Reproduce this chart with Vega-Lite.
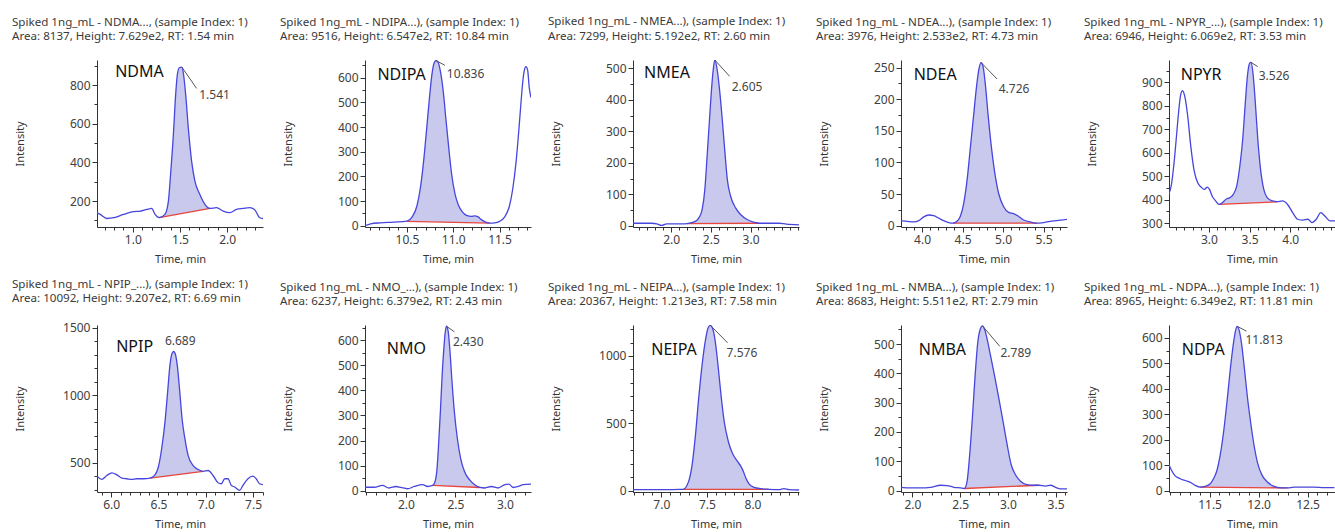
{
"$schema":"https://vega.github.io/schema/vega-lite/v6.json",
"padding":{"left":12,"top":16,"right":0,"bottom":0},
"columns":5,
"spacing":{"row":98,"column":102},
"bounds":"flush",
"config":{
 "view":{"continuousWidth":166,"continuousHeight":167,"stroke":null},
 "font":"Noto Sans",
 "title":{"font":"Noto Sans","fontSize":11.6,"fontWeight":"normal","color":"#3a3a3a","anchor":"start","frame":"group","dx":-85,"offset":17,"lineHeight":14.5},
 "axis":{"labelFont":"Noto Sans","labelFontSize":12,"labelColor":"#404040","titleFont":"Noto Sans","titleFontSize":11,"titleFontWeight":"normal","titleColor":"#333333","domainColor":"#333333","tickColor":"#333333","grid":false,"tickSize":5,"titlePadding":8,"labelOverlap":false,"labelFlush":false},
 "axisY":{"titleX":-72,"format":"d"},
 "line":{"interpolate":"monotone"},
 "area":{"interpolate":"monotone"}
},
"datasets":{
"NDMA":[
{"k":"s","t":0.62,"y":140},{"k":"s","t":0.655,"y":131},{"k":"s","t":0.725,"y":110},{"k":"s","t":0.8,"y":114},{"k":"s","t":0.9,"y":131},{"k":"s","t":1.007,"y":145},{"k":"s","t":1.08,"y":148},{"k":"s","t":1.15,"y":157},{"k":"s","t":1.2,"y":162},{"k":"s","t":1.236,"y":131},
{"k":"s","t":1.28,"y":114,"b":114},{"k":"s","t":1.34,"y":131,"b":119},{"k":"s","t":1.377,"y":200,"b":123},{"k":"s","t":1.4,"y":338,"b":125},{"k":"s","t":1.43,"y":545,"b":128},{"k":"s","t":1.454,"y":752,"b":130},{"k":"s","t":1.472,"y":855,"b":131},{"k":"s","t":1.493,"y":890,"b":133},{"k":"s","t":1.518,"y":893,"b":135},{"k":"s","t":1.535,"y":864,"b":137},{"k":"s","t":1.56,"y":752,"b":139},{"k":"s","t":1.588,"y":579,"b":141},{"k":"s","t":1.623,"y":407,"b":145},{"k":"s","t":1.658,"y":303,"b":148},{"k":"s","t":1.711,"y":234,"b":152},{"k":"s","t":1.764,"y":183,"b":157},{"k":"s","t":1.817,"y":162,"b":162},
{"k":"s","t":1.887,"y":166},{"k":"s","t":1.958,"y":148},{"k":"s","t":2.028,"y":140},{"k":"s","t":2.099,"y":157},{"k":"s","t":2.17,"y":162},{"k":"s","t":2.24,"y":166},{"k":"s","t":2.29,"y":157},{"k":"s","t":2.345,"y":114},{"k":"s","t":2.38,"y":110},
{"k":"b","t":1.28,"y":114},{"k":"b","t":1.817,"y":162},
{"k":"n","t":0.813,"y":841,"s":"NDMA"},{"k":"r","t":1.704,"y":726,"s":"1.541"},{"k":"l","t":1.52,"y":893,"t2":1.676,"y2":783}
],
"NDIPA":[
{"k":"s","t":10.046,"y":0},{"k":"s","t":10.107,"y":8},{"k":"s","t":10.214,"y":12},{"k":"s","t":10.357,"y":15},
{"k":"s","t":10.5,"y":19,"b":18},{"k":"s","t":10.554,"y":35,"b":18},{"k":"s","t":10.607,"y":80,"b":17},{"k":"s","t":10.643,"y":150,"b":17},{"k":"s","t":10.679,"y":260,"b":17},{"k":"s","t":10.714,"y":400,"b":16},{"k":"s","t":10.743,"y":520,"b":16},{"k":"s","t":10.768,"y":610,"b":16},{"k":"s","t":10.793,"y":660,"b":16},{"k":"s","t":10.814,"y":670,"b":16},{"k":"s","t":10.839,"y":660,"b":15},{"k":"s","t":10.864,"y":620,"b":15},{"k":"s","t":10.893,"y":540,"b":15},{"k":"s","t":10.921,"y":430,"b":15},{"k":"s","t":10.95,"y":320,"b":14},{"k":"s","t":10.982,"y":210,"b":14},{"k":"s","t":11.018,"y":130,"b":14},{"k":"s","t":11.054,"y":85,"b":14},{"k":"s","t":11.1,"y":55,"b":13},{"k":"s","t":11.143,"y":42,"b":13},{"k":"s","t":11.196,"y":38,"b":13},{"k":"s","t":11.232,"y":40,"b":12},{"k":"s","t":11.268,"y":36,"b":12},{"k":"s","t":11.304,"y":25,"b":12},{"k":"s","t":11.35,"y":15,"b":11},{"k":"s","t":11.393,"y":11,"b":11},
{"k":"s","t":11.446,"y":12},{"k":"s","t":11.5,"y":18},{"k":"s","t":11.554,"y":35},{"k":"s","t":11.607,"y":80},{"k":"s","t":11.643,"y":150},{"k":"s","t":11.679,"y":260},{"k":"s","t":11.707,"y":380},{"k":"s","t":11.732,"y":500},{"k":"s","t":11.75,"y":580},{"k":"s","t":11.768,"y":630},{"k":"s","t":11.786,"y":645},{"k":"s","t":11.804,"y":630},{"k":"s","t":11.821,"y":560},{"k":"s","t":11.84,"y":520},
{"k":"b","t":10.5,"y":18},{"k":"b","t":11.393,"y":11},
{"k":"n","t":10.18,"y":592,"s":"NDIPA"},{"k":"r","t":10.93,"y":600,"s":"10.836"},{"k":"l","t":10.814,"y":670,"t2":10.91,"y2":650}
],
"NMEA":[
{"k":"s","t":1.52,"y":8},{"k":"s","t":1.754,"y":8},{"k":"s","t":1.82,"y":6},{"k":"s","t":1.88,"y":1},{"k":"s","t":1.945,"y":6},{"k":"s","t":2.01,"y":6},{"k":"s","t":2.136,"y":6},
{"k":"s","t":2.2,"y":7,"b":7},{"k":"s","t":2.305,"y":14,"b":7},{"k":"s","t":2.347,"y":24,"b":7},{"k":"s","t":2.39,"y":51,"b":7},{"k":"s","t":2.424,"y":114,"b":7},{"k":"s","t":2.453,"y":220,"b":7},{"k":"s","t":2.483,"y":337,"b":7},{"k":"s","t":2.508,"y":432,"b":7},{"k":"s","t":2.53,"y":496,"b":7},{"k":"s","t":2.55,"y":527,"b":7},{"k":"s","t":2.58,"y":496,"b":7},{"k":"s","t":2.61,"y":432,"b":7},{"k":"s","t":2.644,"y":337,"b":7},{"k":"s","t":2.678,"y":231,"b":7},{"k":"s","t":2.708,"y":146,"b":7},{"k":"s","t":2.75,"y":93,"b":7},{"k":"s","t":2.814,"y":56,"b":7},{"k":"s","t":2.877,"y":35,"b":8},{"k":"s","t":2.962,"y":19,"b":8},{"k":"s","t":3.047,"y":11,"b":8},{"k":"s","t":3.11,"y":8,"b":8},
{"k":"s","t":3.237,"y":8},{"k":"s","t":3.36,"y":8},{"k":"s","t":3.45,"y":5},{"k":"s","t":3.61,"y":3},
{"k":"b","t":2.2,"y":7},{"k":"b","t":3.11,"y":8},
{"k":"n","t":1.66,"y":469,"s":"NMEA"},{"k":"r","t":2.763,"y":427,"s":"2.605"},{"k":"l","t":2.55,"y":527,"t2":2.737,"y2":475}
],
"NDEA":[
{"k":"s","t":3.74,"y":8},{"k":"s","t":3.815,"y":7},{"k":"s","t":3.897,"y":6},{"k":"s","t":3.96,"y":8},{"k":"s","t":4.02,"y":14},{"k":"s","t":4.082,"y":17},{"k":"s","t":4.144,"y":16},{"k":"s","t":4.206,"y":12},{"k":"s","t":4.267,"y":8},{"k":"s","t":4.33,"y":5},
{"k":"s","t":4.383,"y":4,"b":4},{"k":"s","t":4.432,"y":7,"b":4},{"k":"s","t":4.473,"y":15,"b":4},{"k":"s","t":4.514,"y":35,"b":4},{"k":"s","t":4.556,"y":72,"b":4},{"k":"s","t":4.597,"y":124,"b":4},{"k":"s","t":4.638,"y":176,"b":4},{"k":"s","t":4.671,"y":218,"b":4},{"k":"s","t":4.7,"y":246,"b":4},{"k":"s","t":4.728,"y":258,"b":4},{"k":"s","t":4.753,"y":252,"b":4},{"k":"s","t":4.782,"y":223,"b":4},{"k":"s","t":4.815,"y":176,"b":4},{"k":"s","t":4.852,"y":129,"b":4},{"k":"s","t":4.893,"y":88,"b":4},{"k":"s","t":4.946,"y":51,"b":4},{"k":"s","t":5.008,"y":30,"b":4},{"k":"s","t":5.07,"y":21,"b":4},{"k":"s","t":5.13,"y":19,"b":4},{"k":"s","t":5.19,"y":15,"b":4},{"k":"s","t":5.255,"y":9,"b":4},{"k":"s","t":5.337,"y":6,"b":4},{"k":"s","t":5.42,"y":4,"b":4},
{"k":"s","t":5.5,"y":5},{"k":"s","t":5.58,"y":7},{"k":"s","t":5.66,"y":8},{"k":"s","t":5.79,"y":10},
{"k":"b","t":4.383,"y":4},{"k":"b","t":5.42,"y":4},
{"k":"n","t":3.897,"y":231,"s":"NDEA"},{"k":"r","t":4.947,"y":210,"s":"4.726"},{"k":"l","t":4.728,"y":258,"t2":4.926,"y2":232}
],
"NPYR":[
{"k":"s","t":2.508,"y":423},{"k":"s","t":2.54,"y":465},{"k":"s","t":2.57,"y":550},{"k":"s","t":2.6,"y":663},{"k":"s","t":2.625,"y":762},{"k":"s","t":2.65,"y":840},{"k":"s","t":2.675,"y":864},{"k":"s","t":2.704,"y":840},{"k":"s","t":2.738,"y":762},{"k":"s","t":2.78,"y":621},{"k":"s","t":2.82,"y":522},{"k":"s","t":2.863,"y":472},{"k":"s","t":2.904,"y":454},{"k":"s","t":2.946,"y":444},{"k":"s","t":2.98,"y":454},{"k":"s","t":3.008,"y":444},{"k":"s","t":3.04,"y":416},{"k":"s","t":3.083,"y":395},
{"k":"s","t":3.125,"y":380,"b":380},{"k":"s","t":3.167,"y":388,"b":381},{"k":"s","t":3.21,"y":402,"b":381},{"k":"s","t":3.258,"y":409,"b":382},{"k":"s","t":3.3,"y":423,"b":383},{"k":"s","t":3.342,"y":458,"b":383},{"k":"s","t":3.383,"y":550,"b":384},{"k":"s","t":3.417,"y":663,"b":384},{"k":"s","t":3.446,"y":804,"b":385},{"k":"s","t":3.475,"y":931,"b":385},{"k":"s","t":3.5,"y":981,"b":386},{"k":"s","t":3.517,"y":985,"b":386},{"k":"s","t":3.54,"y":945,"b":386},{"k":"s","t":3.57,"y":818,"b":387},{"k":"s","t":3.6,"y":663,"b":387},{"k":"s","t":3.633,"y":536,"b":388},{"k":"s","t":3.675,"y":444,"b":388},{"k":"s","t":3.717,"y":409,"b":389},{"k":"s","t":3.78,"y":395,"b":390},{"k":"s","t":3.84,"y":392,"b":391},
{"k":"s","t":3.904,"y":395},{"k":"s","t":3.967,"y":380},{"k":"s","t":4.03,"y":345},{"k":"s","t":4.09,"y":317},{"k":"s","t":4.154,"y":313},{"k":"s","t":4.217,"y":317},{"k":"s","t":4.267,"y":303},{"k":"s","t":4.32,"y":317},{"k":"s","t":4.375,"y":345},{"k":"s","t":4.425,"y":331},{"k":"s","t":4.49,"y":310},{"k":"s","t":4.55,"y":310},
{"k":"b","t":3.125,"y":380},{"k":"b","t":3.84,"y":391},
{"k":"n","t":2.654,"y":910,"s":"NPYR"},{"k":"r","t":3.6125,"y":910,"s":"3.526"},{"k":"l","t":3.517,"y":985,"t2":3.6,"y2":967}
],
"NPIP":[
{"k":"s","t":5.85,"y":402},{"k":"s","t":5.9,"y":378},{"k":"s","t":5.954,"y":407},{"k":"s","t":6.007,"y":427},{"k":"s","t":6.06,"y":412},{"k":"s","t":6.112,"y":388},{"k":"s","t":6.165,"y":383},{"k":"s","t":6.218,"y":378},{"k":"s","t":6.27,"y":383},{"k":"s","t":6.34,"y":383},
{"k":"s","t":6.41,"y":388,"b":388},{"k":"s","t":6.463,"y":412,"b":393},{"k":"s","t":6.498,"y":468,"b":396},{"k":"s","t":6.533,"y":603,"b":399},{"k":"s","t":6.568,"y":798,"b":402},{"k":"s","t":6.596,"y":1018,"b":404},{"k":"s","t":6.62,"y":1214,"b":406},{"k":"s","t":6.642,"y":1307,"b":408},{"k":"s","t":6.66,"y":1324,"b":410},{"k":"s","t":6.68,"y":1300,"b":412},{"k":"s","t":6.7,"y":1214,"b":413},{"k":"s","t":6.726,"y":1018,"b":416},{"k":"s","t":6.75,"y":823,"b":418},{"k":"s","t":6.78,"y":676,"b":420},{"k":"s","t":6.814,"y":554,"b":423},{"k":"s","t":6.867,"y":480,"b":428},{"k":"s","t":6.92,"y":451,"b":432},{"k":"s","t":6.972,"y":437,"b":437},
{"k":"s","t":7.025,"y":444},{"k":"s","t":7.077,"y":407},{"k":"s","t":7.13,"y":353},{"k":"s","t":7.165,"y":346},{"k":"s","t":7.2,"y":383},{"k":"s","t":7.235,"y":383},{"k":"s","t":7.27,"y":334},{"k":"s","t":7.305,"y":322},{"k":"s","t":7.358,"y":297},{"k":"s","t":7.393,"y":334},{"k":"s","t":7.446,"y":383},{"k":"s","t":7.498,"y":402},{"k":"s","t":7.533,"y":383},{"k":"s","t":7.568,"y":346},{"k":"s","t":7.605,"y":339},
{"k":"b","t":6.41,"y":388},{"k":"b","t":6.972,"y":437},
{"k":"n","t":6.053,"y":1324,"s":"NPIP"},{"k":"r","t":6.568,"y":1373,"s":"6.689"}
],
"NMO":[
{"k":"s","t":1.587,"y":14},{"k":"s","t":1.68,"y":14},{"k":"s","t":1.763,"y":21},{"k":"s","t":1.83,"y":11},{"k":"s","t":1.9,"y":17},{"k":"s","t":1.95,"y":13},{"k":"s","t":2.017,"y":8},{"k":"s","t":2.085,"y":17},{"k":"s","t":2.17,"y":24},{"k":"s","t":2.22,"y":17},
{"k":"s","t":2.27,"y":21,"b":21},{"k":"s","t":2.295,"y":37,"b":21},{"k":"s","t":2.315,"y":89,"b":20},{"k":"s","t":2.332,"y":195,"b":20},{"k":"s","t":2.35,"y":326,"b":20},{"k":"s","t":2.366,"y":458,"b":19},{"k":"s","t":2.383,"y":563,"b":19},{"k":"s","t":2.397,"y":629,"b":19},{"k":"s","t":2.41,"y":655,"b":19},{"k":"s","t":2.427,"y":636,"b":18},{"k":"s","t":2.444,"y":563,"b":18},{"k":"s","t":2.464,"y":445,"b":18},{"k":"s","t":2.49,"y":313,"b":17},{"k":"s","t":2.52,"y":208,"b":17},{"k":"s","t":2.553,"y":129,"b":16},{"k":"s","t":2.593,"y":76,"b":16},{"k":"s","t":2.644,"y":43,"b":15},{"k":"s","t":2.695,"y":24,"b":14},{"k":"s","t":2.746,"y":13,"b":13},
{"k":"s","t":2.797,"y":11},{"k":"s","t":2.864,"y":17},{"k":"s","t":2.93,"y":11},{"k":"s","t":3.0,"y":24},{"k":"s","t":3.04,"y":26},{"k":"s","t":3.085,"y":13},{"k":"s","t":3.135,"y":17},{"k":"s","t":3.186,"y":24},{"k":"s","t":3.264,"y":26},
{"k":"b","t":2.27,"y":21},{"k":"b","t":2.746,"y":13},
{"k":"n","t":1.807,"y":543,"s":"NMO"},{"k":"r","t":2.475,"y":576,"s":"2.430"},{"k":"l","t":2.41,"y":655,"t2":2.49,"y2":633}
],
"NEIPA":[
{"k":"s","t":6.69,"y":7},{"k":"s","t":6.873,"y":7},{"k":"s","t":7.055,"y":7},{"k":"s","t":7.2,"y":9},
{"k":"s","t":7.24,"y":10,"b":10},{"k":"s","t":7.3,"y":69,"b":10},{"k":"s","t":7.338,"y":192,"b":10},{"k":"s","t":7.375,"y":414,"b":10},{"k":"s","t":7.41,"y":685,"b":9},{"k":"s","t":7.447,"y":931,"b":9},{"k":"s","t":7.484,"y":1116,"b":9},{"k":"s","t":7.513,"y":1207,"b":9},{"k":"s","t":7.538,"y":1227,"b":9},{"k":"s","t":7.564,"y":1202,"b":9},{"k":"s","t":7.593,"y":1103,"b":9},{"k":"s","t":7.622,"y":931,"b":9},{"k":"s","t":7.655,"y":709,"b":9},{"k":"s","t":7.69,"y":512,"b":9},{"k":"s","t":7.735,"y":365,"b":9},{"k":"s","t":7.78,"y":278,"b":9},{"k":"s","t":7.836,"y":217,"b":9},{"k":"s","t":7.873,"y":180,"b":9},{"k":"s","t":7.9,"y":143,"b":9},{"k":"s","t":7.927,"y":94,"b":9},{"k":"s","t":7.964,"y":49,"b":9},{"k":"s","t":8.018,"y":25,"b":9},{"k":"s","t":8.09,"y":15,"b":9},{"k":"s","t":8.18,"y":10,"b":9},
{"k":"s","t":8.29,"y":7},{"k":"s","t":8.345,"y":15},{"k":"s","t":8.4,"y":7},{"k":"s","t":8.51,"y":5},
{"k":"b","t":7.24,"y":10},{"k":"b","t":8.18,"y":9},
{"k":"n","t":6.89,"y":1005,"s":"NEIPA"},{"k":"r","t":7.716,"y":993,"s":"7.576"},{"k":"l","t":7.538,"y":1227,"t2":7.727,"y2":1098}
],
"NMBA":[
{"k":"s","t":1.88,"y":11},{"k":"s","t":1.98,"y":9},{"k":"s","t":2.084,"y":9},{"k":"s","t":2.19,"y":11},{"k":"s","t":2.294,"y":18},{"k":"s","t":2.364,"y":17},{"k":"s","t":2.434,"y":11},{"k":"s","t":2.503,"y":9},
{"k":"s","t":2.545,"y":7,"b":7},{"k":"s","t":2.573,"y":32,"b":7},{"k":"s","t":2.6,"y":122,"b":8},{"k":"s","t":2.63,"y":257,"b":8},{"k":"s","t":2.657,"y":393,"b":9},{"k":"s","t":2.685,"y":506,"b":9},{"k":"s","t":2.713,"y":553,"b":10},{"k":"s","t":2.734,"y":562,"b":10},{"k":"s","t":2.755,"y":551,"b":11},{"k":"s","t":2.783,"y":517,"b":11},{"k":"s","t":2.818,"y":461,"b":11},{"k":"s","t":2.86,"y":393,"b":12},{"k":"s","t":2.906,"y":314,"b":12},{"k":"s","t":2.95,"y":235,"b":13},{"k":"s","t":2.993,"y":156,"b":13},{"k":"s","t":3.035,"y":88,"b":14},{"k":"s","t":3.08,"y":54,"b":15},{"k":"s","t":3.133,"y":32,"b":15},{"k":"s","t":3.2,"y":20,"b":16},{"k":"s","t":3.273,"y":18,"b":17},{"k":"s","t":3.325,"y":18,"b":18},
{"k":"s","t":3.395,"y":15},{"k":"s","t":3.448,"y":18},{"k":"s","t":3.5,"y":11},{"k":"s","t":3.552,"y":6},{"k":"s","t":3.62,"y":6},
{"k":"b","t":2.545,"y":7},{"k":"b","t":3.325,"y":18},
{"k":"n","t":2.066,"y":463,"s":"NMBA"},{"k":"r","t":2.923,"y":455,"s":"2.789"},{"k":"l","t":2.734,"y":562,"t2":2.916,"y2":492}
],
"NDPA":[
{"k":"s","t":11.086,"y":103},{"k":"s","t":11.113,"y":80},{"k":"s","t":11.147,"y":60},{"k":"s","t":11.2,"y":48},{"k":"s","t":11.25,"y":41},{"k":"s","t":11.3,"y":35},{"k":"s","t":11.353,"y":22},
{"k":"s","t":11.404,"y":15,"b":15},{"k":"s","t":11.455,"y":18,"b":15},{"k":"s","t":11.507,"y":28,"b":15},{"k":"s","t":11.54,"y":48,"b":14},{"k":"s","t":11.575,"y":80,"b":14},{"k":"s","t":11.61,"y":144,"b":14},{"k":"s","t":11.644,"y":234,"b":14},{"k":"s","t":11.678,"y":350,"b":14},{"k":"s","t":11.712,"y":478,"b":14},{"k":"s","t":11.74,"y":568,"b":14},{"k":"s","t":11.764,"y":626,"b":14},{"k":"s","t":11.78,"y":645,"b":14},{"k":"s","t":11.8,"y":632,"b":13},{"k":"s","t":11.825,"y":581,"b":13},{"k":"s","t":11.856,"y":478,"b":13},{"k":"s","t":11.884,"y":375,"b":13},{"k":"s","t":11.918,"y":272,"b":13},{"k":"s","t":11.952,"y":183,"b":13},{"k":"s","t":11.993,"y":105,"b":13},{"k":"s","t":12.038,"y":60,"b":13},{"k":"s","t":12.09,"y":35,"b":13},{"k":"s","t":12.158,"y":18,"b":12},{"k":"s","t":12.226,"y":12,"b":12},{"k":"s","t":12.295,"y":12,"b":12},
{"k":"s","t":12.363,"y":15},{"k":"s","t":12.466,"y":15},{"k":"s","t":12.568,"y":15},{"k":"s","t":12.67,"y":13},{"k":"s","t":12.774,"y":13},
{"k":"b","t":11.404,"y":15},{"k":"b","t":12.295,"y":12},
{"k":"n","t":11.216,"y":532,"s":"NDPA"},{"k":"r","t":11.866,"y":575,"s":"11.813"},{"k":"l","t":11.78,"y":645,"t2":11.877,"y2":626}
]
},
"concat":[
{"title":{"text":["Spiked 1ng_mL - NDMA..., (sample Index: 1)","Area: 8137, Height: 7.629e2, RT: 1.54 min"]},"data":{"name":"NDMA"},
 "resolve":{"axis":{"x":"independent","y":"independent"}},
 "layer":[
 {"encoding":{"x":{"field":"t","type":"quantitative","scale":{"domain":[0.62,2.38],"nice":false,"zero":false},"axis":{"orient":"bottom","values":[1,1.5,2],"format":".1f","title":"Time, min"}},
   "y":{"field":"y","type":"quantitative","scale":{"domain":[66,930],"nice":false,"zero":false},"axis":{"orient":"left","values":[200,400,600,800],"title":"Intensity"}}},
  "layer":[
  {"transform":[{"filter":"datum.k=='s' && isValid(datum.b)"}],"mark":{"type":"area","color":"#4b4bc8","opacity":0.3,"clip":true},"encoding":{"y2":{"field":"b"}}},
  {"transform":[{"filter":"datum.k=='b'"}],"mark":{"type":"line","color":"#e8453c","strokeWidth":1.3,"clip":true,"interpolate":"linear"}},
  {"transform":[{"filter":"datum.k=='s'"}],"mark":{"type":"line","color":"#4646dc","strokeWidth":1.3,"clip":true}},
  {"transform":[{"filter":"datum.k=='l'"}],"mark":{"type":"rule","color":"#555555","strokeWidth":1},"encoding":{"x2":{"field":"t2"},"y2":{"field":"y2"}}},
  {"transform":[{"filter":"datum.k=='r'"}],"mark":{"type":"text","align":"left","baseline":"alphabetic","fontSize":12,"color":"#444444"},"encoding":{"text":{"field":"s"}}},
  {"transform":[{"filter":"datum.k=='n'"}],"mark":{"type":"text","align":"left","baseline":"alphabetic","fontSize":16,"color":"#111111"},"encoding":{"text":{"field":"s"}}}
  ]},
 {"transform":[{"filter":"datum.k=='b'"}],"mark":{"type":"point","opacity":0},"encoding":{
   "x":{"field":"t","type":"quantitative","scale":{"domain":[0.62,2.38],"nice":false,"zero":false},"axis":{"orient":"bottom","values":[0.7,0.8,0.9,1.1,1.2,1.3,1.4,1.6,1.7,1.8,1.9,2.1,2.2,2.3],"labels":false,"tickSize":3,"domain":false,"title":null}},
   "y":{"field":"y","type":"quantitative","scale":{"domain":[66,930],"nice":false,"zero":false},"axis":{"orient":"left","values":[100,300,500,700,900],"labels":false,"tickSize":3,"domain":false,"title":null}}}}
 ]},
{"title":{"text":["Spiked 1ng_mL - NDIPA...), (sample Index: 1)","Area: 9516, Height: 6.547e2, RT: 10.84 min"]},"data":{"name":"NDIPA"},
 "resolve":{"axis":{"x":"independent","y":"independent"}},
 "layer":[
 {"encoding":{"x":{"field":"t","type":"quantitative","scale":{"domain":[10.046,11.84],"nice":false,"zero":false},"axis":{"orient":"bottom","values":[10.5,11,11.5],"format":".1f","title":"Time, min"}},
   "y":{"field":"y","type":"quantitative","scale":{"domain":[-5,672],"nice":false,"zero":false},"axis":{"orient":"left","values":[0,100,200,300,400,500,600],"title":"Intensity"}}},
  "layer":[
  {"transform":[{"filter":"datum.k=='s' && isValid(datum.b)"}],"mark":{"type":"area","color":"#4b4bc8","opacity":0.3,"clip":true},"encoding":{"y2":{"field":"b"}}},
  {"transform":[{"filter":"datum.k=='b'"}],"mark":{"type":"line","color":"#e8453c","strokeWidth":1.3,"clip":true,"interpolate":"linear"}},
  {"transform":[{"filter":"datum.k=='s'"}],"mark":{"type":"line","color":"#4646dc","strokeWidth":1.3,"clip":true}},
  {"transform":[{"filter":"datum.k=='l'"}],"mark":{"type":"rule","color":"#555555","strokeWidth":1},"encoding":{"x2":{"field":"t2"},"y2":{"field":"y2"}}},
  {"transform":[{"filter":"datum.k=='r'"}],"mark":{"type":"text","align":"left","baseline":"alphabetic","fontSize":12,"color":"#444444"},"encoding":{"text":{"field":"s"}}},
  {"transform":[{"filter":"datum.k=='n'"}],"mark":{"type":"text","align":"left","baseline":"alphabetic","fontSize":16,"color":"#111111"},"encoding":{"text":{"field":"s"}}}
  ]},
 {"transform":[{"filter":"datum.k=='b'"}],"mark":{"type":"point","opacity":0},"encoding":{
   "x":{"field":"t","type":"quantitative","scale":{"domain":[10.046,11.84],"nice":false,"zero":false},"axis":{"orient":"bottom","values":[10.1,10.2,10.3,10.4,10.6,10.7,10.8,10.9,11.1,11.2,11.3,11.4,11.6,11.7,11.8],"labels":false,"tickSize":3,"domain":false,"title":null}},
   "y":{"field":"y","type":"quantitative","scale":{"domain":[-5,672],"nice":false,"zero":false},"axis":{"orient":"left","values":[50,150,250,350,450,550,650],"labels":false,"tickSize":3,"domain":false,"title":null}}}}
 ]},
{"title":{"text":["Spiked 1ng_mL - NMEA...), (sample Index: 1)","Area: 7299, Height: 5.192e2, RT: 2.60 min"]},"data":{"name":"NMEA"},
 "resolve":{"axis":{"x":"independent","y":"independent"}},
 "layer":[
 {"encoding":{"x":{"field":"t","type":"quantitative","scale":{"domain":[1.52,3.61],"nice":false,"zero":false},"axis":{"orient":"bottom","values":[2,2.5,3],"format":".1f","title":"Time, min"}},
   "y":{"field":"y","type":"quantitative","scale":{"domain":[-4,527],"nice":false,"zero":false},"axis":{"orient":"left","values":[0,100,200,300,400,500],"title":"Intensity"}}},
  "layer":[
  {"transform":[{"filter":"datum.k=='s' && isValid(datum.b)"}],"mark":{"type":"area","color":"#4b4bc8","opacity":0.3,"clip":true},"encoding":{"y2":{"field":"b"}}},
  {"transform":[{"filter":"datum.k=='b'"}],"mark":{"type":"line","color":"#e8453c","strokeWidth":1.3,"clip":true,"interpolate":"linear"}},
  {"transform":[{"filter":"datum.k=='s'"}],"mark":{"type":"line","color":"#4646dc","strokeWidth":1.3,"clip":true}},
  {"transform":[{"filter":"datum.k=='l'"}],"mark":{"type":"rule","color":"#555555","strokeWidth":1},"encoding":{"x2":{"field":"t2"},"y2":{"field":"y2"}}},
  {"transform":[{"filter":"datum.k=='r'"}],"mark":{"type":"text","align":"left","baseline":"alphabetic","fontSize":12,"color":"#444444"},"encoding":{"text":{"field":"s"}}},
  {"transform":[{"filter":"datum.k=='n'"}],"mark":{"type":"text","align":"left","baseline":"alphabetic","fontSize":16,"color":"#111111"},"encoding":{"text":{"field":"s"}}}
  ]},
 {"transform":[{"filter":"datum.k=='b'"}],"mark":{"type":"point","opacity":0},"encoding":{
   "x":{"field":"t","type":"quantitative","scale":{"domain":[1.52,3.61],"nice":false,"zero":false},"axis":{"orient":"bottom","values":[1.6,1.7,1.8,1.9,2.1,2.2,2.3,2.4,2.6,2.7,2.8,2.9,3.1,3.2,3.3,3.4,3.5,3.6],"labels":false,"tickSize":3,"domain":false,"title":null}},
   "y":{"field":"y","type":"quantitative","scale":{"domain":[-4,527],"nice":false,"zero":false},"axis":{"orient":"left","values":[50,150,250,350,450],"labels":false,"tickSize":3,"domain":false,"title":null}}}}
 ]},
{"title":{"text":["Spiked 1ng_mL - NDEA...), (sample Index: 1)","Area: 3976, Height: 2.533e2, RT: 4.73 min"]},"data":{"name":"NDEA"},
 "resolve":{"axis":{"x":"independent","y":"independent"}},
 "layer":[
 {"encoding":{"x":{"field":"t","type":"quantitative","scale":{"domain":[3.74,5.79],"nice":false,"zero":false},"axis":{"orient":"bottom","values":[4,4.5,5,5.5],"format":".1f","title":"Time, min"}},
   "y":{"field":"y","type":"quantitative","scale":{"domain":[-2,262],"nice":false,"zero":false},"axis":{"orient":"left","values":[0,50,100,150,200,250],"title":"Intensity"}}},
  "layer":[
  {"transform":[{"filter":"datum.k=='s' && isValid(datum.b)"}],"mark":{"type":"area","color":"#4b4bc8","opacity":0.3,"clip":true},"encoding":{"y2":{"field":"b"}}},
  {"transform":[{"filter":"datum.k=='b'"}],"mark":{"type":"line","color":"#e8453c","strokeWidth":1.3,"clip":true,"interpolate":"linear"}},
  {"transform":[{"filter":"datum.k=='s'"}],"mark":{"type":"line","color":"#4646dc","strokeWidth":1.3,"clip":true}},
  {"transform":[{"filter":"datum.k=='l'"}],"mark":{"type":"rule","color":"#555555","strokeWidth":1},"encoding":{"x2":{"field":"t2"},"y2":{"field":"y2"}}},
  {"transform":[{"filter":"datum.k=='r'"}],"mark":{"type":"text","align":"left","baseline":"alphabetic","fontSize":12,"color":"#444444"},"encoding":{"text":{"field":"s"}}},
  {"transform":[{"filter":"datum.k=='n'"}],"mark":{"type":"text","align":"left","baseline":"alphabetic","fontSize":16,"color":"#111111"},"encoding":{"text":{"field":"s"}}}
  ]},
 {"transform":[{"filter":"datum.k=='b'"}],"mark":{"type":"point","opacity":0},"encoding":{
   "x":{"field":"t","type":"quantitative","scale":{"domain":[3.74,5.79],"nice":false,"zero":false},"axis":{"orient":"bottom","values":[3.8,3.9,4.1,4.2,4.3,4.4,4.6,4.7,4.8,4.9,5.1,5.2,5.3,5.4,5.6,5.7],"labels":false,"tickSize":3,"domain":false,"title":null}},
   "y":{"field":"y","type":"quantitative","scale":{"domain":[-2,262],"nice":false,"zero":false},"axis":{"orient":"left","values":[25,75,125,175,225],"labels":false,"tickSize":3,"domain":false,"title":null}}}}
 ]},
{"title":{"text":["Spiked 1ng_mL - NPYR_...), (sample Index: 1)","Area: 6946, Height: 6.069e2, RT: 3.53 min"]},"data":{"name":"NPYR"},
 "resolve":{"axis":{"x":"independent","y":"independent"}},
 "layer":[
 {"encoding":{"x":{"field":"t","type":"quantitative","scale":{"domain":[2.51,4.55],"nice":false,"zero":false},"axis":{"orient":"bottom","values":[3,3.5,4],"format":".1f","title":"Time, min"}},
   "y":{"field":"y","type":"quantitative","scale":{"domain":[284,995],"nice":false,"zero":false},"axis":{"orient":"left","values":[300,400,500,600,700,800,900],"title":"Intensity"}}},
  "layer":[
  {"transform":[{"filter":"datum.k=='s' && isValid(datum.b)"}],"mark":{"type":"area","color":"#4b4bc8","opacity":0.3,"clip":true},"encoding":{"y2":{"field":"b"}}},
  {"transform":[{"filter":"datum.k=='b'"}],"mark":{"type":"line","color":"#e8453c","strokeWidth":1.3,"clip":true,"interpolate":"linear"}},
  {"transform":[{"filter":"datum.k=='s'"}],"mark":{"type":"line","color":"#4646dc","strokeWidth":1.3,"clip":true}},
  {"transform":[{"filter":"datum.k=='l'"}],"mark":{"type":"rule","color":"#555555","strokeWidth":1},"encoding":{"x2":{"field":"t2"},"y2":{"field":"y2"}}},
  {"transform":[{"filter":"datum.k=='r'"}],"mark":{"type":"text","align":"left","baseline":"alphabetic","fontSize":12,"color":"#444444"},"encoding":{"text":{"field":"s"}}},
  {"transform":[{"filter":"datum.k=='n'"}],"mark":{"type":"text","align":"left","baseline":"alphabetic","fontSize":16,"color":"#111111"},"encoding":{"text":{"field":"s"}}}
  ]},
 {"transform":[{"filter":"datum.k=='b'"}],"mark":{"type":"point","opacity":0},"encoding":{
   "x":{"field":"t","type":"quantitative","scale":{"domain":[2.51,4.55],"nice":false,"zero":false},"axis":{"orient":"bottom","values":[2.6,2.7,2.8,2.9,3.1,3.2,3.3,3.4,3.6,3.7,3.8,3.9,4.1,4.2,4.3,4.4,4.5],"labels":false,"tickSize":3,"domain":false,"title":null}},
   "y":{"field":"y","type":"quantitative","scale":{"domain":[284,995],"nice":false,"zero":false},"axis":{"orient":"left","values":[350,450,550,650,750,850,950],"labels":false,"tickSize":3,"domain":false,"title":null}}}}
 ]},
{"title":{"text":["Spiked 1ng_mL - NPIP_...), (sample Index: 1)","Area: 10092, Height: 9.207e2, RT: 6.69 min"]},"data":{"name":"NPIP"},
 "resolve":{"axis":{"x":"independent","y":"independent"}},
 "layer":[
 {"encoding":{"x":{"field":"t","type":"quantitative","scale":{"domain":[5.85,7.605],"nice":false,"zero":false},"axis":{"orient":"bottom","values":[6,6.5,7,7.5],"format":".1f","title":"Time, min"}},
   "y":{"field":"y","type":"quantitative","scale":{"domain":[285,1520],"nice":false,"zero":false},"axis":{"orient":"left","values":[500,1000,1500],"title":"Intensity"}}},
  "layer":[
  {"transform":[{"filter":"datum.k=='s' && isValid(datum.b)"}],"mark":{"type":"area","color":"#4b4bc8","opacity":0.3,"clip":true},"encoding":{"y2":{"field":"b"}}},
  {"transform":[{"filter":"datum.k=='b'"}],"mark":{"type":"line","color":"#e8453c","strokeWidth":1.3,"clip":true,"interpolate":"linear"}},
  {"transform":[{"filter":"datum.k=='s'"}],"mark":{"type":"line","color":"#4646dc","strokeWidth":1.3,"clip":true}},
  {"transform":[{"filter":"datum.k=='r'"}],"mark":{"type":"text","align":"left","baseline":"alphabetic","fontSize":12,"color":"#444444"},"encoding":{"text":{"field":"s"}}},
  {"transform":[{"filter":"datum.k=='n'"}],"mark":{"type":"text","align":"left","baseline":"alphabetic","fontSize":16,"color":"#111111"},"encoding":{"text":{"field":"s"}}}
  ]},
 {"transform":[{"filter":"datum.k=='b'"}],"mark":{"type":"point","opacity":0},"encoding":{
   "x":{"field":"t","type":"quantitative","scale":{"domain":[5.85,7.605],"nice":false,"zero":false},"axis":{"orient":"bottom","values":[5.9,6.1,6.2,6.3,6.4,6.6,6.7,6.8,6.9,7.1,7.2,7.3,7.4,7.6],"labels":false,"tickSize":3,"domain":false,"title":null}},
   "y":{"field":"y","type":"quantitative","scale":{"domain":[285,1520],"nice":false,"zero":false},"axis":{"orient":"left","values":[300,400,600,700,800,900,1100,1200,1300,1400],"labels":false,"tickSize":3,"domain":false,"title":null}}}}
 ]},
{"title":{"text":["Spiked 1ng_mL - NMO_...), (sample Index: 1)","Area: 6237, Height: 6.379e2, RT: 2.43 min"]},"data":{"name":"NMO"},
 "resolve":{"axis":{"x":"independent","y":"independent"}},
 "layer":[
 {"encoding":{"x":{"field":"t","type":"quantitative","scale":{"domain":[1.587,3.264],"nice":false,"zero":false},"axis":{"orient":"bottom","values":[2,2.5,3],"format":".1f","title":"Time, min"}},
   "y":{"field":"y","type":"quantitative","scale":{"domain":[-5,660],"nice":false,"zero":false},"axis":{"orient":"left","values":[0,100,200,300,400,500,600],"title":"Intensity"}}},
  "layer":[
  {"transform":[{"filter":"datum.k=='s' && isValid(datum.b)"}],"mark":{"type":"area","color":"#4b4bc8","opacity":0.3,"clip":true},"encoding":{"y2":{"field":"b"}}},
  {"transform":[{"filter":"datum.k=='b'"}],"mark":{"type":"line","color":"#e8453c","strokeWidth":1.3,"clip":true,"interpolate":"linear"}},
  {"transform":[{"filter":"datum.k=='s'"}],"mark":{"type":"line","color":"#4646dc","strokeWidth":1.3,"clip":true}},
  {"transform":[{"filter":"datum.k=='l'"}],"mark":{"type":"rule","color":"#555555","strokeWidth":1},"encoding":{"x2":{"field":"t2"},"y2":{"field":"y2"}}},
  {"transform":[{"filter":"datum.k=='r'"}],"mark":{"type":"text","align":"left","baseline":"alphabetic","fontSize":12,"color":"#444444"},"encoding":{"text":{"field":"s"}}},
  {"transform":[{"filter":"datum.k=='n'"}],"mark":{"type":"text","align":"left","baseline":"alphabetic","fontSize":16,"color":"#111111"},"encoding":{"text":{"field":"s"}}}
  ]},
 {"transform":[{"filter":"datum.k=='b'"}],"mark":{"type":"point","opacity":0},"encoding":{
   "x":{"field":"t","type":"quantitative","scale":{"domain":[1.587,3.264],"nice":false,"zero":false},"axis":{"orient":"bottom","values":[1.6,1.7,1.8,1.9,2.1,2.2,2.3,2.4,2.6,2.7,2.8,2.9,3.1,3.2],"labels":false,"tickSize":3,"domain":false,"title":null}},
   "y":{"field":"y","type":"quantitative","scale":{"domain":[-5,660],"nice":false,"zero":false},"axis":{"orient":"left","values":[50,150,250,350,450,550,650],"labels":false,"tickSize":3,"domain":false,"title":null}}}}
 ]},
{"title":{"text":["Spiked 1ng_mL - NEIPA...), (sample Index: 1)","Area: 20367, Height: 1.213e3, RT: 7.58 min"]},"data":{"name":"NEIPA"},
 "resolve":{"axis":{"x":"independent","y":"independent"}},
 "layer":[
 {"encoding":{"x":{"field":"t","type":"quantitative","scale":{"domain":[6.69,8.51],"nice":false,"zero":false},"axis":{"orient":"bottom","values":[7,7.5,8],"format":".1f","title":"Time, min"}},
   "y":{"field":"y","type":"quantitative","scale":{"domain":[-10,1230],"nice":false,"zero":false},"axis":{"orient":"left","values":[0,500,1000],"title":"Intensity"}}},
  "layer":[
  {"transform":[{"filter":"datum.k=='s' && isValid(datum.b)"}],"mark":{"type":"area","color":"#4b4bc8","opacity":0.3,"clip":true},"encoding":{"y2":{"field":"b"}}},
  {"transform":[{"filter":"datum.k=='b'"}],"mark":{"type":"line","color":"#e8453c","strokeWidth":1.3,"clip":true,"interpolate":"linear"}},
  {"transform":[{"filter":"datum.k=='s'"}],"mark":{"type":"line","color":"#4646dc","strokeWidth":1.3,"clip":true}},
  {"transform":[{"filter":"datum.k=='l'"}],"mark":{"type":"rule","color":"#555555","strokeWidth":1},"encoding":{"x2":{"field":"t2"},"y2":{"field":"y2"}}},
  {"transform":[{"filter":"datum.k=='r'"}],"mark":{"type":"text","align":"left","baseline":"alphabetic","fontSize":12,"color":"#444444"},"encoding":{"text":{"field":"s"}}},
  {"transform":[{"filter":"datum.k=='n'"}],"mark":{"type":"text","align":"left","baseline":"alphabetic","fontSize":16,"color":"#111111"},"encoding":{"text":{"field":"s"}}}
  ]},
 {"transform":[{"filter":"datum.k=='b'"}],"mark":{"type":"point","opacity":0},"encoding":{
   "x":{"field":"t","type":"quantitative","scale":{"domain":[6.69,8.51],"nice":false,"zero":false},"axis":{"orient":"bottom","values":[6.7,6.8,6.9,7.1,7.2,7.3,7.4,7.6,7.7,7.8,7.9,8.1,8.2,8.3,8.4,8.5],"labels":false,"tickSize":3,"domain":false,"title":null}},
   "y":{"field":"y","type":"quantitative","scale":{"domain":[-10,1230],"nice":false,"zero":false},"axis":{"orient":"left","values":[100,200,300,400,600,700,800,900,1100,1200],"labels":false,"tickSize":3,"domain":false,"title":null}}}}
 ]},
{"title":{"text":["Spiked 1ng_mL - NMBA...), (sample Index: 1)","Area: 8683, Height: 5.511e2, RT: 2.79 min"]},"data":{"name":"NMBA"},
 "resolve":{"axis":{"x":"independent","y":"independent"}},
 "layer":[
 {"encoding":{"x":{"field":"t","type":"quantitative","scale":{"domain":[1.88,3.62],"nice":false,"zero":false},"axis":{"orient":"bottom","values":[2,2.5,3,3.5],"format":".1f","title":"Time, min"}},
   "y":{"field":"y","type":"quantitative","scale":{"domain":[-5,565],"nice":false,"zero":false},"axis":{"orient":"left","values":[0,100,200,300,400,500],"title":"Intensity"}}},
  "layer":[
  {"transform":[{"filter":"datum.k=='s' && isValid(datum.b)"}],"mark":{"type":"area","color":"#4b4bc8","opacity":0.3,"clip":true},"encoding":{"y2":{"field":"b"}}},
  {"transform":[{"filter":"datum.k=='b'"}],"mark":{"type":"line","color":"#e8453c","strokeWidth":1.3,"clip":true,"interpolate":"linear"}},
  {"transform":[{"filter":"datum.k=='s'"}],"mark":{"type":"line","color":"#4646dc","strokeWidth":1.3,"clip":true}},
  {"transform":[{"filter":"datum.k=='l'"}],"mark":{"type":"rule","color":"#555555","strokeWidth":1},"encoding":{"x2":{"field":"t2"},"y2":{"field":"y2"}}},
  {"transform":[{"filter":"datum.k=='r'"}],"mark":{"type":"text","align":"left","baseline":"alphabetic","fontSize":12,"color":"#444444"},"encoding":{"text":{"field":"s"}}},
  {"transform":[{"filter":"datum.k=='n'"}],"mark":{"type":"text","align":"left","baseline":"alphabetic","fontSize":16,"color":"#111111"},"encoding":{"text":{"field":"s"}}}
  ]},
 {"transform":[{"filter":"datum.k=='b'"}],"mark":{"type":"point","opacity":0},"encoding":{
   "x":{"field":"t","type":"quantitative","scale":{"domain":[1.88,3.62],"nice":false,"zero":false},"axis":{"orient":"bottom","values":[1.9,2.1,2.2,2.3,2.4,2.6,2.7,2.8,2.9,3.1,3.2,3.3,3.4,3.6],"labels":false,"tickSize":3,"domain":false,"title":null}},
   "y":{"field":"y","type":"quantitative","scale":{"domain":[-5,565],"nice":false,"zero":false},"axis":{"orient":"left","values":[50,150,250,350,450,550],"labels":false,"tickSize":3,"domain":false,"title":null}}}}
 ]},
{"title":{"text":["Spiked 1ng_mL - NDPA...), (sample Index: 1)","Area: 8965, Height: 6.349e2, RT: 11.81 min"]},"data":{"name":"NDPA"},
 "resolve":{"axis":{"x":"independent","y":"independent"}},
 "layer":[
 {"encoding":{"x":{"field":"t","type":"quantitative","scale":{"domain":[11.086,12.78],"nice":false,"zero":false},"axis":{"orient":"bottom","values":[11.5,12,12.5],"format":".1f","title":"Time, min"}},
   "y":{"field":"y","type":"quantitative","scale":{"domain":[-4,650],"nice":false,"zero":false},"axis":{"orient":"left","values":[0,100,200,300,400,500,600],"title":"Intensity"}}},
  "layer":[
  {"transform":[{"filter":"datum.k=='s' && isValid(datum.b)"}],"mark":{"type":"area","color":"#4b4bc8","opacity":0.3,"clip":true},"encoding":{"y2":{"field":"b"}}},
  {"transform":[{"filter":"datum.k=='b'"}],"mark":{"type":"line","color":"#e8453c","strokeWidth":1.3,"clip":true,"interpolate":"linear"}},
  {"transform":[{"filter":"datum.k=='s'"}],"mark":{"type":"line","color":"#4646dc","strokeWidth":1.3,"clip":true}},
  {"transform":[{"filter":"datum.k=='l'"}],"mark":{"type":"rule","color":"#555555","strokeWidth":1},"encoding":{"x2":{"field":"t2"},"y2":{"field":"y2"}}},
  {"transform":[{"filter":"datum.k=='r'"}],"mark":{"type":"text","align":"left","baseline":"alphabetic","fontSize":12,"color":"#444444"},"encoding":{"text":{"field":"s"}}},
  {"transform":[{"filter":"datum.k=='n'"}],"mark":{"type":"text","align":"left","baseline":"alphabetic","fontSize":16,"color":"#111111"},"encoding":{"text":{"field":"s"}}}
  ]},
 {"transform":[{"filter":"datum.k=='b'"}],"mark":{"type":"point","opacity":0},"encoding":{
   "x":{"field":"t","type":"quantitative","scale":{"domain":[11.086,12.78],"nice":false,"zero":false},"axis":{"orient":"bottom","values":[11.1,11.2,11.3,11.4,11.6,11.7,11.8,11.9,12.1,12.2,12.3,12.4,12.6,12.7],"labels":false,"tickSize":3,"domain":false,"title":null}},
   "y":{"field":"y","type":"quantitative","scale":{"domain":[-4,650],"nice":false,"zero":false},"axis":{"orient":"left","values":[50,150,250,350,450,550],"labels":false,"tickSize":3,"domain":false,"title":null}}}}
 ]}
]
}
